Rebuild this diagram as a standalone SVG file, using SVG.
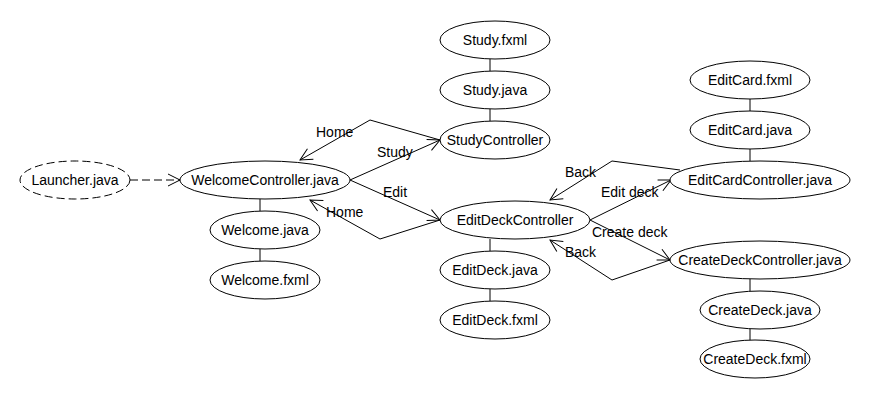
<svg xmlns="http://www.w3.org/2000/svg" width="870" height="400" viewBox="0 0 870 400">
<style>
.n ellipse{fill:#fff;stroke:#000;stroke-width:1}
.n text,.lbl{font-family:"Liberation Sans",Arial,sans-serif;font-size:14px;fill:#000}
.n text{text-anchor:middle}
.c{fill:none;stroke:#000;stroke-width:1}
.d{stroke-dasharray:8 4}
</style>
<defs>
<marker id="arr" viewBox="-13 -7 14 14" refX="0" refY="0" markerWidth="14" markerHeight="14" markerUnits="userSpaceOnUse" orient="auto">
<path d="M-12,-6 L0,0 L-12,6" fill="none" stroke="#000" stroke-width="1"/>
</marker>
</defs>
<rect width="870" height="400" fill="#fff"/>
<g id="connectors">
<line class="c d" x1="130" y1="180" x2="180" y2="180" marker-end="url(#arr)"/>
<line class="c" x1="260" y1="199" x2="260" y2="211"/>
<line class="c" x1="260" y1="249" x2="260" y2="261"/>
<line class="c" x1="490" y1="59" x2="490" y2="71"/>
<line class="c" x1="490" y1="109" x2="490" y2="121"/>
<line class="c" x1="490" y1="239" x2="490" y2="251"/>
<line class="c" x1="490" y1="289" x2="490" y2="301"/>
<line class="c" x1="750" y1="99" x2="750" y2="111"/>
<line class="c" x1="750" y1="149" x2="750" y2="161"/>
<line class="c" x1="750" y1="279" x2="750" y2="291"/>
<line class="c" x1="750" y1="329" x2="750" y2="341"/>
<line class="c" x1="350" y1="180" x2="440" y2="140" marker-end="url(#arr)"/>
<polyline class="c" points="440,140 370,120 300,160" marker-end="url(#arr)"/>
<line class="c" x1="350" y1="180" x2="440" y2="220" marker-end="url(#arr)"/>
<polyline class="c" points="440,220 380,239 310,200" marker-end="url(#arr)"/>
<line class="c" x1="590" y1="220" x2="671" y2="180" marker-end="url(#arr)"/>
<polyline class="c" points="680,170 612,161 550,200" marker-end="url(#arr)"/>
<line class="c" x1="590" y1="220" x2="670" y2="260" marker-end="url(#arr)"/>
<polyline class="c" points="670,260 612,280 550,240" marker-end="url(#arr)"/>
<text class="lbl" x="377" y="157">Study</text>
<text class="lbl" x="316" y="137">Home</text>
<text class="lbl" x="383" y="197">Edit</text>
<text class="lbl" x="326" y="217">Home</text>
<text class="lbl" x="601" y="197">Edit deck</text>
<text class="lbl" x="565" y="177">Back</text>
<text class="lbl" x="592" y="237">Create deck</text>
<text class="lbl" x="565" y="257">Back</text>
</g>
<g id="launcher" class="n"><ellipse cx="75" cy="180" rx="55" ry="19" stroke-dasharray="8 4"/><text x="75" y="185">Launcher.java</text></g>
<g id="welcomeController" class="n"><ellipse cx="265" cy="180" rx="85" ry="19"/><text x="265" y="185">WelcomeController.java</text></g>
<g id="welcomeJava" class="n"><ellipse cx="265" cy="230" rx="55" ry="19"/><text x="265" y="235">Welcome.java</text></g>
<g id="welcomeFxml" class="n"><ellipse cx="265" cy="280" rx="55" ry="19"/><text x="265" y="285">Welcome.fxml</text></g>
<g id="studyFxml" class="n"><ellipse cx="495" cy="40" rx="55" ry="19"/><text x="495" y="45">Study.fxml</text></g>
<g id="studyJava" class="n"><ellipse cx="495" cy="90" rx="55" ry="19"/><text x="495" y="95">Study.java</text></g>
<g id="studyController" class="n"><ellipse cx="495" cy="140" rx="55" ry="19"/><text x="495" y="145">StudyController</text></g>
<g id="editDeckController" class="n"><ellipse cx="515" cy="220" rx="75" ry="19"/><text x="515" y="225">EditDeckController</text></g>
<g id="editDeckJava" class="n"><ellipse cx="495" cy="270" rx="55" ry="19"/><text x="495" y="275">EditDeck.java</text></g>
<g id="editDeckFxml" class="n"><ellipse cx="495" cy="320" rx="55" ry="19"/><text x="495" y="325">EditDeck.fxml</text></g>
<g id="editCardFxml" class="n"><ellipse cx="750" cy="80" rx="60" ry="19"/><text x="750" y="85">EditCard.fxml</text></g>
<g id="editCardJava" class="n"><ellipse cx="750" cy="130" rx="60" ry="19"/><text x="750" y="135">EditCard.java</text></g>
<g id="editCardController" class="n"><ellipse cx="760" cy="180" rx="90" ry="19"/><text x="760" y="185">EditCardController.java</text></g>
<g id="createDeckController" class="n"><ellipse cx="760" cy="260" rx="90" ry="19"/><text x="760" y="265">CreateDeckController.java</text></g>
<g id="createDeckJava" class="n"><ellipse cx="760" cy="310" rx="60" ry="19"/><text x="760" y="315">CreateDeck.java</text></g>
<g id="createDeckFxml" class="n"><ellipse cx="755" cy="359" rx="55" ry="19"/><text x="755" y="364">CreateDeck.fxml</text></g>
</svg>
